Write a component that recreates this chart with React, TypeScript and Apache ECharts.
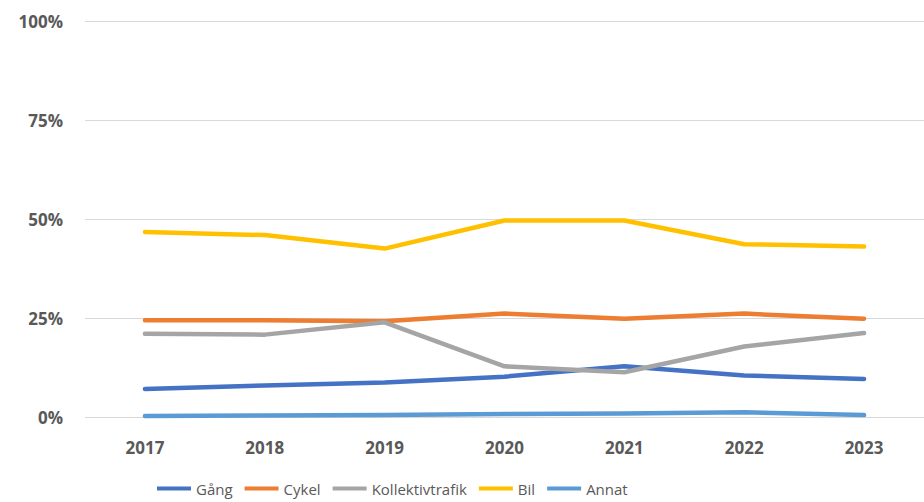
import React, { useEffect, useRef } from "react";
import * as echarts from "echarts";

const years = ["2017", "2018", "2019", "2020", "2021", "2022", "2023"];
const gang = [7.2, 8.1, 8.8, 10.3, 12.9, 10.6, 9.7];
const cykel = [24.5, 24.5, 24.3, 26.2, 24.9, 26.2, 24.9];
const kollektivtrafik = [21.1, 20.9, 24.0, 12.9, 11.4, 17.9, 21.3];
const bil = [46.8, 46.0, 42.6, 49.7, 49.7, 43.7, 43.1];
const annat = [0.4, 0.5, 0.6, 0.9, 1.0, 1.3, 0.6];
const yTicks = [0, 25, 50, 75, 100];

const seriesDefs = [
  { name: "Gång", data: gang, color: "#4472C4" },
  { name: "Cykel", data: cykel, color: "#ED7D31" },
  { name: "Kollektivtrafik", data: kollektivtrafik, color: "#A5A5A5" },
  { name: "Bil", data: bil, color: "#FFC000" },
  { name: "Annat", data: annat, color: "#5B9BD5" },
];

export default function App() {
  const ref = useRef<HTMLDivElement>(null);
  useEffect(() => {
    if (!ref.current) return;
    const chart = echarts.init(ref.current, null, { renderer: "svg" });
    const font = "'Open Sans', 'Noto Sans', sans-serif";
    chart.setOption({
      animation: false,
      textStyle: { fontFamily: font },
      grid: { left: 85, width: 841, top: 21, bottom: 84.5, containLabel: false },
      legend: {
        bottom: 1,
        left: 152,
        icon: "rect",
        itemWidth: 34,
        itemHeight: 4,
        itemGap: 12,
        textStyle: { color: "#595959", fontSize: 15, fontFamily: font },
        data: seriesDefs.map((s) => s.name),
      },
      xAxis: {
        type: "category",
        data: years,
        boundaryGap: true,
        axisLine: { show: false },
        axisTick: { show: false },
        axisLabel: {
          color: "#595959",
          fontWeight: "bold",
          fontSize: 17,
          margin: 21,
          fontFamily: font,
        },
      },
      yAxis: {
        type: "value",
        min: yTicks[0],
        max: yTicks[yTicks.length - 1],
        interval: 25,
        axisLine: { show: false },
        axisTick: { show: false },
        splitLine: { lineStyle: { color: "#D9D9D9", width: 1 } },
        axisLabel: {
          color: "#595959",
          fontWeight: "bold",
          fontSize: 17,
          margin: 22,
          fontFamily: font,
          formatter: (v: number) => `${v}%`,
        },
      },
      series: seriesDefs.map((s) => ({
        name: s.name,
        type: "line",
        data: s.data,
        symbol: "none",
        color: s.color,
        lineStyle: { width: 4.5, color: s.color, cap: "round", join: "round" },
      })),
    });
    return () => chart.dispose();
  }, []);
  return <div ref={ref} style={{ width: 924, height: 502, position: "absolute", left: 0, top: 0 }} />;
}
